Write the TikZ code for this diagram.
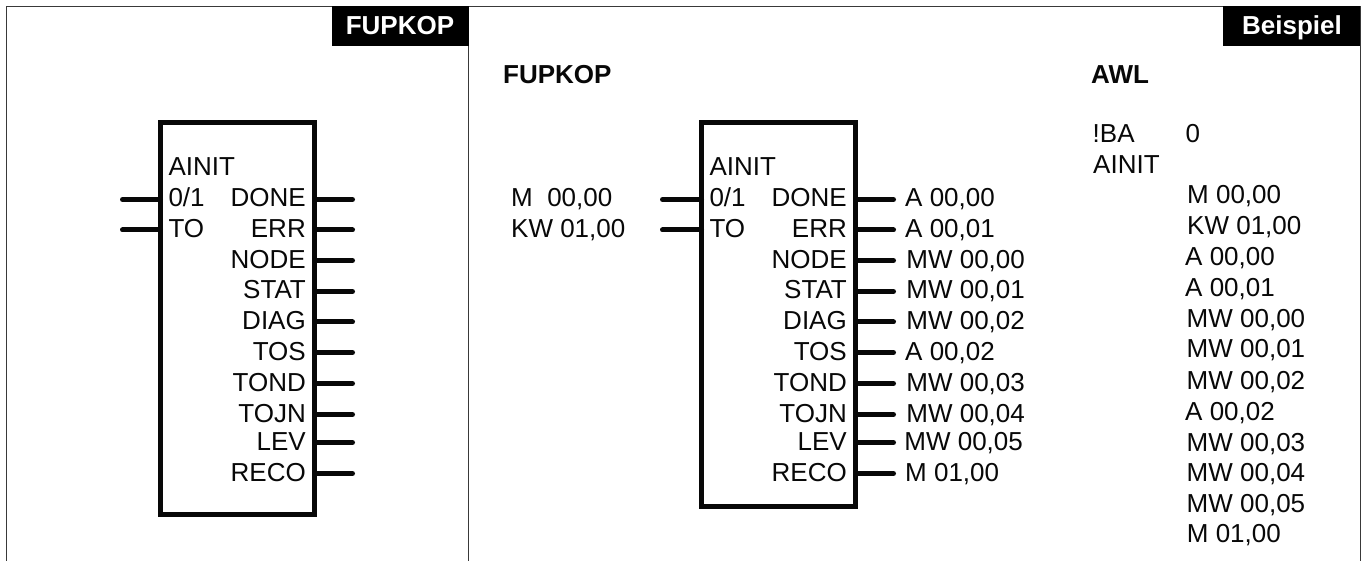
\documentclass[tikz,border=0pt]{standalone}
\usepackage{fontspec}
\setmainfont{Liberation Sans}
\definecolor{ink}{HTML}{080808}
\newcommand{\fs}{\fontsize{26}{26}\selectfont}
\tikzset{
 lab/.style={inner sep=0pt,font=\fs,text=ink,anchor=base west},
 labr/.style={inner sep=0pt,font=\fs,text=ink,anchor=base east},
 head/.style={inner sep=0pt,font=\bfseries\fs,text=ink,anchor=base west},
 tagbox/.style={fill=black,inner sep=0pt,minimum height=40pt,anchor=north east},
 tagtext/.style={inner sep=0pt,text=white,font=\bfseries\fs,anchor=base},
 blockbox/.style={draw=ink,line width=4.5pt,outer sep=0pt,minimum width=154pt,inner sep=0pt,anchor=north west},
 pin/.style={draw=ink,line width=5pt,line cap=round},
 frame/.style={draw=ink!80,line width=1pt}
}
\begin{document}
\begin{tikzpicture}[x=1pt,y=-1pt]
\useasboundingbox (0,0) rectangle (1366,561);
\fill[white] (0,0) rectangle (1366,561);
\coordinate (tl) at (6,6.5);
\coordinate (tr) at (1360,6.5);
\coordinate (ml) at (6,561);
\coordinate (mr) at (1360,561);
\coordinate (dt) at (468,6.5);
\coordinate (db) at (468,561);
\draw[frame] (ml) -- (tl) -- (tr) -- (mr);
\draw[frame] (dt) -- (db);
\node[tagbox,minimum width=137pt] (t1) at (469,6) {};
\node[tagtext] (t1t) at (400,35) {FUPKOP};
\node[tagbox,minimum width=137.5pt] (t2) at (1360.5,6) {};
\node[tagtext] (t2t) at (1292,35) {Beispiel};
% left block
\node[blockbox,minimum height=392pt] (b1) at (160.5,122.5) {};
\node[lab] (b1n) at (168.3,176) {AINIT};
\foreach \t/\y/\p [count=\i] in {0\slash 1/207/199.5,TO/237.5/230}{
  \node[lab] (b1i\i) at (168.3,\y) {\t};
  \coordinate (b1p\i) at (122.5,\p);
  \draw[pin] (b1p\i) -- (160.5,\p);
}
\foreach \t/\y/\p [count=\i] in {DONE/207/199.5,ERR/237.5/230,NODE/268.3/260.5,STAT/299/291.5,DIAG/330/322,TOS/360.7/352.5,TOND/391.7/383.5,TOJN/422/414.5,LEV/450.3/442.5,RECO/481/473.5}{
  \node[labr] (b1o\i) at (306,\y) {\t};
  \coordinate (b1q\i) at (352.5,\p);
  \draw[pin] (314.5,\p) -- (b1q\i);
}
% middle block
\node[head] (hf) at (503,84) {FUPKOP};
\node[head] (ha) at (1091,84) {AWL};
\node[blockbox,minimum height=384pt] (b2) at (701.5,122.5) {};
\node[lab] (b2n) at (709.3,176) {AINIT};
\foreach \t/\y/\p/\e [count=\i] in {0\slash 1/207/199.5/M\ \ 00\char44 00,TO/237.5/230/KW 01\char44 00}{
  \node[lab] (b2i\i) at (709.3,\y) {\t};
  \coordinate (b2p\i) at (662.5,\p);
  \draw[pin] (b2p\i) -- (701.5,\p);
  \node[lab] (b2e\i) at (511,\y) {\e};
}
\foreach \t/\y/\p/\x/\e [count=\i] in {DONE/207/199.5/905/A 00\char44 00,ERR/237.5/230/905/A 00\char44 01,NODE/268.3/260.5/906.2/MW 00\char44 00,STAT/299/291.5/906.2/MW 00\char44 01,DIAG/330/322/906.2/MW 00\char44 02,TOS/360.7/352.5/905/A 00\char44 02,TOND/391.7/383.5/906.2/MW 00\char44 03,TOJN/422/414.5/906.2/MW 00\char44 04,LEV/450.3/442.5/904.2/MW 00\char44 05,RECO/481/473.5/905/M 01\char44 00}{
  \node[labr] (b2o\i) at (847,\y) {\t};
  \node[lab] (b2e\i) at (\x,\y) {\e};
  \coordinate (b2q\i) at (893.5,\p);
  \draw[pin] (855.5,\p) -- (b2q\i);
}
% AWL
\node[lab] (s1) at (1092.5,142.7) {!BA};
\node[lab] (s2) at (1185.5,142.7) {0};
\node[lab] (s3) at (1093,173.3) {AINIT};
\foreach \e/\y/\x [count=\i] in {M 00\char44 00/204/1187,KW 01\char44 00/234.3/1187,A 00\char44 00/265.5/1185,A 00\char44 01/296.7/1185,MW 00\char44 00/327.7/1186.5,MW 00\char44 01/358/1186.5,MW 00\char44 02/389/1186.5,A 00\char44 02/420/1185,MW 00\char44 03/451/1186.5,MW 00\char44 04/481.7/1186.5,MW 00\char44 05/512.3/1186.5,M 01\char44 00/542.7/1186.7}{
  \node[lab] (w\i) at (\x,\y) {\e};
}
\end{tikzpicture}
\end{document}
